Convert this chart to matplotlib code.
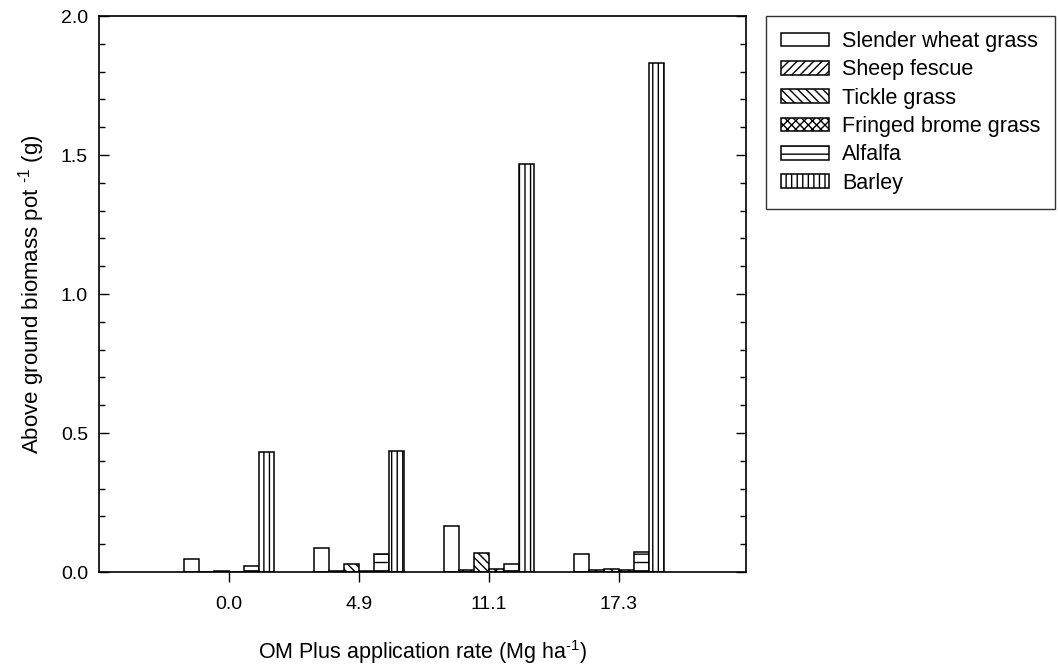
import matplotlib
matplotlib.use("Agg")
import matplotlib.pyplot as plt
import numpy as np
from matplotlib.ticker import MultipleLocator

plt.rcParams['font.family'] = ['Liberation Sans', 'DejaVu Sans']
plt.rcParams['mathtext.fontset'] = 'custom'
plt.rcParams['mathtext.rm'] = 'Liberation Sans'
plt.rcParams['hatch.linewidth'] = 1.0

rates = ["0.0", "4.9", "11.1", "17.3"]
species = ["Slender wheat grass", "Sheep fescue", "Tickle grass",
           "Fringed brome grass", "Alfalfa", "Barley"]
slender = [0.047, 0.085, 0.167, 0.066]
sheep = [0.001, 0.003, 0.009, 0.008]
tickle = [0.004, 0.030, 0.068, 0.012]
fringed = [0.001, 0.002, 0.011, 0.006]
alfalfa = [0.022, 0.063, 0.029, 0.073]
barley = [0.432, 0.437, 1.468, 1.830]
series = [slender, sheep, tickle, fringed, alfalfa, barley]
hatches = ['', '////', '\\\\\\\\', 'xxxx', '--', '|||']

fig = plt.figure(figsize=(10.58, 6.68), dpi=100)
ax = fig.add_axes([0.0936, 0.1437, 0.6115, 0.8323])

x = np.arange(1, len(rates) + 1)
w = 0.1154
for i, (vals, h, name) in enumerate(zip(series, hatches, species)):
    ax.bar(x + (i - 2.5) * w, vals, width=w, facecolor='white',
           edgecolor='black', hatch=h, linewidth=1.1, label=name)

ax.set_xlim(0, 4.98)
ax.set_ylim(0, 2.0)
ax.set_xticks(x)
ax.set_xticklabels(rates)
ax.yaxis.set_major_locator(MultipleLocator(0.5))
ax.yaxis.set_minor_locator(MultipleLocator(0.1))
ax.yaxis.set_major_formatter(plt.FuncFormatter(lambda v, p: f"{v:.1f}"))
ax.tick_params(axis='y', which='both', direction='in', left=True, right=True,
               labelsize=14, pad=8)
ax.tick_params(axis='y', which='major', length=7, width=1)
ax.tick_params(axis='y', which='minor', length=4.5, width=1)
ax.tick_params(axis='x', direction='out', length=7, width=1, labelsize=14,
               pad=10, top=False)
for s in ax.spines.values():
    s.set_linewidth(1.2)

ax.set_ylabel('Above ground biomass pot $^{\\text{-1}}$ (g)', fontsize=16,
              labelpad=10)
ax.set_xlabel('OM Plus application rate (Mg ha$^{\\text{-1}}$)', fontsize=15.5,
              labelpad=18)

leg = fig.legend(loc='upper left', bbox_to_anchor=(0.724, 0.976),
                 fontsize=15.5, frameon=True, fancybox=False, shadow=False,
                 borderpad=0.7, handlelength=2.23, handleheight=0.6,
                 handletextpad=0.6, labelspacing=0.34, borderaxespad=0)
leg.get_frame().set_edgecolor('black')
leg.get_frame().set_linewidth(1.0)

fig.savefig('out.png', dpi=100)
